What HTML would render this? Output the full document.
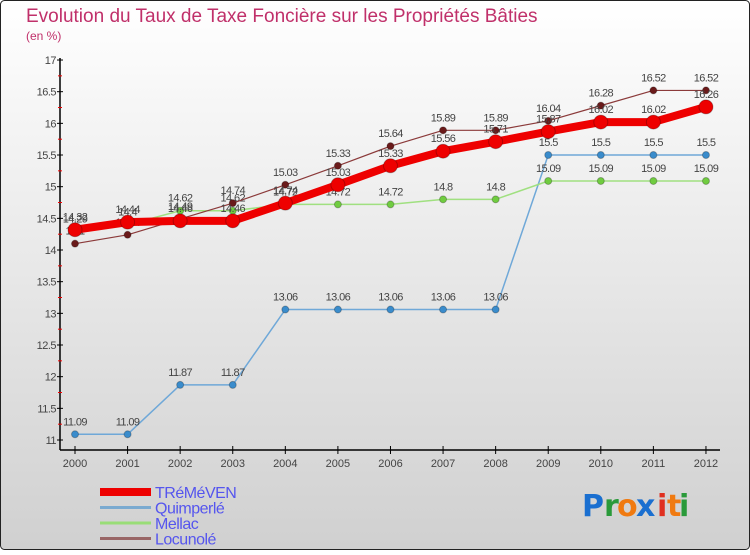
<!DOCTYPE html>
<html><head><meta charset="utf-8"><style>
body{margin:0;width:750px;height:550px;overflow:hidden;font-family:"Liberation Sans",sans-serif}
</style></head><body>
<svg id="c" width="750" height="550" xmlns="http://www.w3.org/2000/svg">
<defs><linearGradient id="bg" x1="0" y1="0" x2="0" y2="1"><stop offset="0" stop-color="#ffffff"/><stop offset="1" stop-color="#d0d0d0"/></linearGradient></defs>
<rect x="0.5" y="0.5" width="749" height="549" rx="4" fill="url(#bg)" stroke="#222"/>
<text x="26" y="22" font-size="19" fill="#c0306a">Evolution du Taux de Taxe Foncière sur les Propriétés Bâties</text>
<text x="26" y="40" font-size="12" fill="#c0306a">(en %)</text>
<g id="axes"></g><g id="series"></g><g id="legend"></g>
<g font-size="30" font-weight="bold" font-family="'DejaVu Sans',sans-serif">
<text x="582" y="516" fill="#1a6fd0">P</text><text x="604" y="516" fill="#2a9a3a">r</text><text x="617" y="516" fill="#f07a10">o</text><text x="636" y="516" fill="#1a6fd0">x</text><text x="657" y="516" fill="#e03020">i</text><text x="667" y="516" fill="#f07a10">t</text><text x="679" y="516" fill="#2a9a3a">i</text></g>
</svg>
<script>
const years=[2000,2001,2002,2003,2004,2005,2006,2007,2008,2009,2010,2011,2012];
const treme=[14.32,14.44,14.46,14.46,14.74,15.03,15.33,15.56,15.71,15.87,16.02,16.02,16.26];
const quimp=[11.09,11.09,11.87,11.87,13.06,13.06,13.06,13.06,13.06,15.5,15.5,15.5,15.5];
const mellac=[14.29,14.4,14.62,14.62,14.72,14.72,14.72,14.8,14.8,15.09,15.09,15.09,15.09];
const locun=[14.1,14.24,14.49,14.74,15.03,15.33,15.64,15.89,15.89,16.04,16.28,16.52,16.52];
const yTicks=[11,11.5,12,12.5,13,13.5,14,14.5,15,15.5,16,16.5,17];
const NS="http://www.w3.org/2000/svg";
const X=i=>75+i*52.58, Y=v=>440-(v-11)*63.33;
function mk(p,t,a){const e=document.createElementNS(NS,t);for(const k in a)e.setAttribute(k,a[k]);p.appendChild(e);return e;}
const ax=document.getElementById('axes');
let l=mk(ax,'line',{x1:60,y1:58,x2:60,y2:450,stroke:'#000','stroke-width':1.5});


l=mk(ax,'line',{x1:60,y1:450,x2:720,y2:450,stroke:'#000','stroke-width':1.5});


yTicks.forEach((v,i)=>{
 mk(ax,'line',{x1:57,y1:Y(v),x2:63,y2:Y(v),stroke:'#000'});
 if(i<yTicks.length-1) mk(ax,'line',{x1:58,y1:Y(v)-15.83,x2:62,y2:Y(v)-15.83,stroke:'#e00'});
 const t=mk(ax,'text',{x:56,y:Y(v)+4,'font-size':11,fill:'#444','text-anchor':'end','letter-spacing':'-0.5'});
 t.textContent=String(v);
 
 
});
years.forEach((y,i)=>{
 mk(ax,'line',{x1:X(i),y1:446,x2:X(i),y2:454,stroke:'#000'});
 const t=mk(ax,'text',{x:X(i),y:467,'font-size':11,fill:'#444','text-anchor':'middle'});
 t.textContent=y;
 
 
});
const S=document.getElementById('series');
function series(name,vals,color,w,r,fill){
 const g=mk(S,'g',{});
 
 
 const ln=mk(g,'polyline',{points:vals.map((v,i)=>X(i)+','+Y(v)).join(' '),fill:'none',stroke:color,'stroke-width':w,'stroke-linejoin':'round'});
 
 
 vals.forEach((v,i)=>{
  const c=mk(g,'circle',{cx:X(i),cy:Y(v),r:r,fill:fill,stroke:'rgba(0,0,0,0.25)'});
  
  
  const t=mk(g,'text',{x:X(i),y:Y(v)-9,'font-size':11,fill:'#444','text-anchor':'middle','letter-spacing':'-0.6'});
  t.textContent=String(v);
  
  
 });
}
series('quimperle',quimp,'#6fa8d8',1.5,3.5,'#3a8ccc');
series('mellac',mellac,'#a0e080',1.5,3.5,'#70cc40');
series('locunole',locun,'#8b3a3a',1.2,3.5,'#6a1a1a');
series('tremeven',treme,'#ee0000',8,7,'#ee0000');
const L=document.getElementById('legend');
[['TRéMéVEN','#ee0000',8],['Quimperlé','#7aaad0',3],['Mellac','#99dd77',3],['Locunolé','#996666',3]].forEach((d,i)=>{
 const g=mk(L,'g',{});
 
 
 const yy=492+i*15.5;
 mk(g,'line',{x1:100,y1:yy,x2:151,y2:yy,stroke:d[1],'stroke-width':d[2]});
 const t=mk(g,'text',{x:155,y:yy+6,'font-size':16,fill:'#5555ee','letter-spacing':'-0.5'});
 t.textContent=d[0];
});
</script>
</body></html>
